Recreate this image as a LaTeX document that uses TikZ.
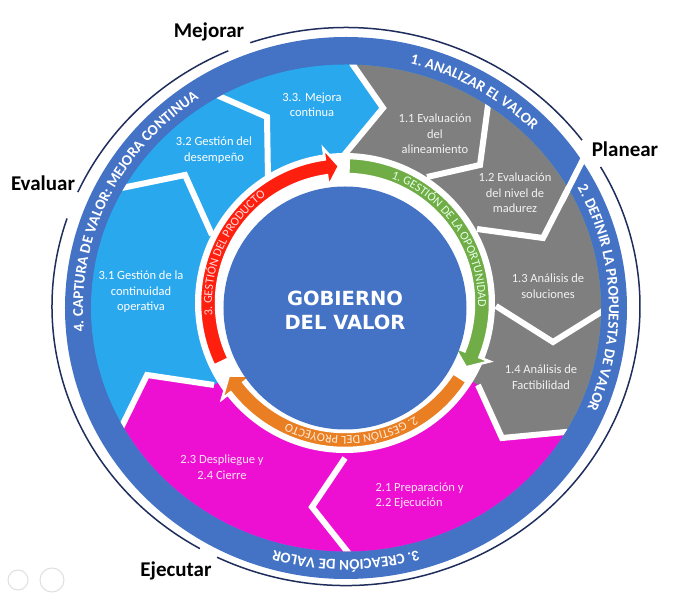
\documentclass[tikz,border=0pt]{standalone}
\usepackage{fontspec}
\setmainfont{Carlito}
\newfontfamily\centrefont{DejaVu Sans}
\usetikzlibrary{decorations.text}

\definecolor{ringblue}{HTML}{4472C4}
\definecolor{skyblue}{HTML}{2AA8EE}
\definecolor{stepgrey}{HTML}{7F7F7F}
\definecolor{stepmagenta}{HTML}{EE10D2}
\definecolor{arrowred}{HTML}{FF1F0F}
\definecolor{arrowgreen}{HTML}{70AD47}
\definecolor{arroworange}{HTML}{E97F22}
\definecolor{navyline}{HTML}{1F2D5C}

\newcommand\steptext{\fontsize{12.5}{15.5}\selectfont}
\newcommand\phasetext{\fontsize{21}{24}\selectfont\bfseries}
\newcommand\ringtext{\fontsize{15}{18}\selectfont\bfseries}
\newcommand\arrowtext{\fontsize{12.2}{14}\selectfont}

\tikzset{
	steplabel/.style={align=center, font=\steptext},
	phase/.style={font=\phasetext, text=black, inner sep=0pt},
	gap/.style={white, line width=6pt, line join=miter},
	cycle arrow/.style={draw=white, line width=2.5pt},
	ringlabel/.style={decorate, decoration={text along path, text align=center, text color=white, text={|\ringtext|#1}}},
	arrowlabel/.style 2 args={decorate, decoration={text along path, text align=center, text color=#1, text={|\arrowtext|#2}}},
}

\begin{document}
\begin{tikzpicture}[x=1pt, y=1pt]
	\useasboundingbox (-346,-299) rectangle (331,308);

	% outer ring and the three blocks of steps
	\fill[ringblue] (0,0) ellipse[x radius=281, y radius=271];
	\begin{scope}
		\clip (0,0) ellipse[x radius=255, y radius=243.5];
		\fill[skyblue] (-300,-300) rectangle (300,300);
		\fill[stepgrey] (-23,290) -- (7,243) -- (37,200) -- (-6,148) -- (0,0) -- (132,-77) -- (156,-130) -- (219,-124) -- (340,-110) -- (340,330) -- (-23,330) -- cycle;
		\fill[stepmagenta] (0,0) -- (132,-77) -- (156,-130) -- (219,-124) -- (340,-110) -- (340,-330) -- (-350,-330) -- (-350,-160) -- (-240,-150) -- (-226,-122) -- (-199,-67) -- (-132,-77) -- cycle;
		\draw[gap] (-23,290) -- (7,243) -- (37,200) -- (-6,148) -- (-8,140);
		\draw[gap] (-134,215) -- (-79,191) -- (-78,130);
		\draw[gap] (-234,118) -- (-161,133) -- (-134,73);
		\draw[gap] (-240,-150) -- (-226,-122) -- (-199,-67) -- (-132,-77);
		\draw[gap] (143,210) -- (134,143) -- (81,131);
		\draw[gap] (246,166) -- (197,70) -- (131,79);
		\draw[gap] (150,2) -- (207,-34) -- (260,-1);
		\draw[gap] (132,-77) -- (156,-130) -- (230,-123);
		\draw[gap] (-1,-150) -- (-34,-199) -- (8,-252);
	\end{scope}
	\draw[gap] (215,105) -- (252,178);

	% the three management arrows
	\begin{scope}[shift={(-1,5)}]
		\fill[white] (0,0) circle[radius=150];
		\filldraw[cycle arrow, fill=arrowred] (205.5:145) arc[start angle=205.5, end angle=98, radius=145] -- (98:156) -- (92.5:137) -- (98:118) -- (98:129) arc[start angle=98, end angle=205.5, radius=129] -- cycle;
		\filldraw[cycle arrow, fill=arrowgreen] (88.5:145) arc[start angle=88.5, end angle=-22, radius=145] -- (-22:156) -- (-28:137) -- (-22:118) -- (-22:129) arc[start angle=-22, end angle=88.5, radius=129] -- cycle;
		\filldraw[cycle arrow, fill=arroworange] (-33:145) arc[start angle=-33, end angle=-142, radius=145] -- (-142:156) -- (-148:137) -- (-142:118) -- (-142:129) arc[start angle=-142, end angle=-33, radius=129] -- cycle;
		\path[arrowlabel={green!10}{1. GESTIÓN DE LA OPORTUNIDAD}] (80:133) arc[start angle=80, end angle=-12, radius=133];
		\path[arrowlabel={orange!15}{2. GESTIÓN DEL PROYECTO}] (-40:133) arc[start angle=-40, end angle=-134, radius=133];
		\path[arrowlabel={red!15}{3. GESTIÓN DEL PRODUCTO}] (200:133) arc[start angle=200, end angle=112, radius=133];
	\end{scope}

	% centre
	\fill[ringblue] (-1,0) circle[radius=121.5];
	\node (gobierno) at (-1,-2) [text=white, align=center, font=\centrefont\fontsize{19.5}{24}\selectfont\bfseries] {GOBIERNO\\DEL VALOR};

	% texts on the outer ring
	\path[ringlabel={1. ANALIZAR EL VALOR}] (100:263 and 252) arc[start angle=100, end angle=20, x radius=263, y radius=252];
	\path[ringlabel={2. DEFINIR LA PROPUESTA DE VALOR}] (45:263 and 252) arc[start angle=45, end angle=-40, x radius=263, y radius=252];
	\path[ringlabel={3. CREACIÓN DE VALOR}] (-50:263 and 252) arc[start angle=-50, end angle=-130, x radius=263, y radius=252];
	\path[ringlabel={4. CAPTURA DE VALOR: MEJORA CONTINUA}] (205:263 and 252) arc[start angle=205, end angle=105, x radius=263, y radius=252];

	% thin outline, broken at the four phases
	\begin{scope}[shift={(0,1.5)}, navyline, line width=1.5pt]
		\draw (113.6:294 and 279) arc[start angle=113.6, end angle=155.8, x radius=294, y radius=279];
		\draw (161.6:294 and 279) arc[start angle=161.6, end angle=240.2, x radius=294, y radius=279];
		\draw (-116:294 and 279) arc[start angle=-116, end angle=30, x radius=294, y radius=279];
		\draw (36.6:294 and 279) arc[start angle=36.6, end angle=109, x radius=294, y radius=279];
	\end{scope}

	% steps
	\node (s33) at (-34,203) [steplabel, text=white] {3.3. Mejora\\continua};
	\node (s32) at (-132,158) [steplabel, text=white] {3.2 Gestión del\\desempeño};
	\node (s31) at (-205,16) [steplabel, text=white] {3.1 Gestión de la\\continuidad\\operativa};
	\node (s11) at (89,174) [steplabel, text=white!90!gray] {1.1 Evaluación\\del\\alineamiento};
	\node (s12) at (169,115) [steplabel, text=white!90!gray] {1.2 Evaluación\\del nivel de\\madurez};
	\node (s13) at (202,22) [steplabel, text=white!90!gray] {1.3 Análisis de\\soluciones};
	\node (s14) at (195,-69) [steplabel, text=white!90!gray] {1.4 Análisis de\\Factibilidad};
	\node (s21) at (26,-188) [steplabel, text=white!90!magenta, anchor=west, align=left] {2.1 Preparación y\\2.2 Ejecución};
	\node (s23) at (-124,-159) [steplabel, text=white!90!magenta] {2.3 Despliegue y\\2.4 Cierre};

	% phases
	\node (mejorar) at (-137,276) [phase] {Mejorar};
	\node (planear) at (279,159) [phase] {Planear};
	\node (evaluar) at (-303,125) [phase] {Evaluar};
	\node (ejecutar) at (-170,-263) [phase] {Ejecutar};

	% player buttons
	\draw[gray!25, line width=1pt] (-328,-272) circle[radius=10];
	\draw[gray!25, line width=1pt] (-294,-272) circle[radius=12];
\end{tikzpicture}
\end{document}
